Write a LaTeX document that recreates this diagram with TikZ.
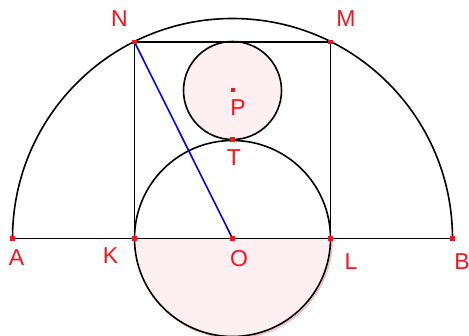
\documentclass[tikz,border=0pt]{standalone}
\usepackage{fontspec}
\setmainfont{Liberation Sans}
\definecolor{ptred}{RGB}{245,20,30}
\definecolor{pinkfill}{RGB}{253,239,242}
\definecolor{shadowpink}{RGB}{245,185,195}
\definecolor{lineblue}{RGB}{0,0,245}
\begin{document}
\begin{tikzpicture}[x=1pt,y=-1pt,
  pt/.style={fill=ptred,draw=none,minimum size=4.5pt,inner sep=0pt,outer sep=0pt,rectangle},
  lbl/.style={text=ptred,font=\fontsize{23}{23}\selectfont,inner sep=0pt},
  geo/.style={draw=black,line width=1.6pt}]
\useasboundingbox (0,0) rectangle (469,336);
\coordinate (O) at (232.5,238.5);
\coordinate (A) at (12.5,238.5);
\coordinate (B) at (452.5,238.5);
\coordinate (K) at (134.5,238.5);
\coordinate (L) at (330.5,238.5);
\coordinate (N) at (134.5,42);
\coordinate (M) at (330.5,42);
\coordinate (P) at (232.5,90.5);
\coordinate (T) at (232.5,139.5);
% lower half-disk shading
\begin{scope}
  \clip (100,238.5) rectangle (400,340);
  \draw[shadowpink,line width=1.6pt] (234,240) circle (98);
  \fill[pinkfill] (O) circle (98);
\end{scope}
\fill[pinkfill] (P) circle (49);
% big semicircle
\begin{scope}
  \clip (0,0) rectangle (469,238.5);
  \draw[geo] (O) circle (220);
\end{scope}
\draw[geo] (A) -- (B);
\draw[geo] (K) -- (N) -- (M) -- (L);
\draw[geo] (O) circle (98);
\draw[geo] (P) circle (49);
\draw[lineblue,line width=1.6pt] (N) -- (O);
% points
\foreach \p in {A,B,K,L,N,M,O,T} \node[pt] (pt\p) at (\p) {};
\node[pt,minimum size=4pt] (ptP) at (232.5,90) {};
% labels
\node[lbl] (lA) at (16.5,257.5) {A};
\node[lbl] (lB) at (462,261.5) {B};
\node[lbl] (lK) at (110.5,256) {K};
\node[lbl] (lO) at (239,259) {O};
\node[lbl] (lL) at (351,262) {L};
\node[lbl] (lN) at (119.5,18.5) {N};
\node[lbl] (lM) at (346,18.5) {M};
\node[lbl] (lP) at (238,108) {P};
\node[lbl] (lT) at (234,158) {T};
\end{tikzpicture}
\end{document}
